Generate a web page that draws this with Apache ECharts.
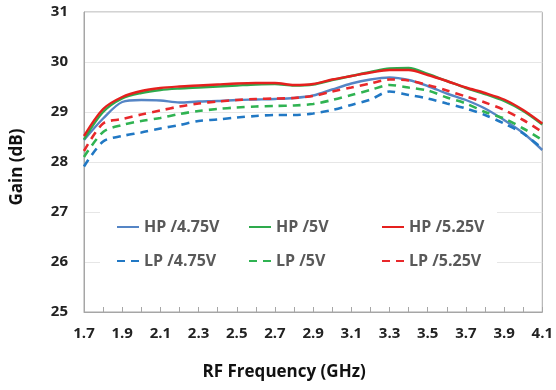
<!DOCTYPE html>
<html>
<head>
<meta charset="utf-8">
<script src="https://cdn.jsdelivr.net/npm/echarts@6/dist/echarts.min.js"></script>
<style>
  html, body { margin: 0; padding: 0; background: #fff; }
  #chart { width: 556px; height: 390px; }
</style>
</head>
<body>
<div id="chart"></div>
<script>
// RF frequency points (GHz)
const freq = ['1.7','1.8','1.9','2.0','2.1','2.2','2.3','2.4','2.5','2.6','2.7','2.8','2.9',
              '3.0','3.1','3.2','3.3','3.4','3.5','3.6','3.7','3.8','3.9','4.0','4.1'];
const freqLabels = ['1.7','1.9','2.1','2.3','2.5','2.7','2.9','3.1','3.3','3.5','3.7','3.9','4.1'];

// Gain (dB), high-power mode
const hp475 = [28.44, 28.87, 29.20, 29.24, 29.23, 29.19, 29.21, 29.22, 29.24, 29.25, 29.26, 29.28, 29.33,
               29.45, 29.57, 29.65, 29.69, 29.64, 29.52, 29.37, 29.24, 29.07, 28.84, 28.58, 28.24];
const hp500 = [28.45, 29.00, 29.27, 29.38, 29.44, 29.47, 29.49, 29.51, 29.53, 29.55, 29.56, 29.53, 29.55,
               29.64, 29.72, 29.80, 29.87, 29.88, 29.76, 29.62, 29.48, 29.36, 29.22, 29.02, 28.75];
const hp525 = [28.52, 29.06, 29.30, 29.42, 29.48, 29.51, 29.53, 29.55, 29.57, 29.58, 29.58, 29.54, 29.56,
               29.65, 29.72, 29.79, 29.84, 29.84, 29.74, 29.62, 29.49, 29.38, 29.25, 29.04, 28.77];

// Gain (dB), low-power mode
const lp475 = [27.91, 28.41, 28.52, 28.59, 28.67, 28.74, 28.82, 28.85, 28.89, 28.92, 28.94, 28.94, 28.97,
               29.04, 29.14, 29.25, 29.41, 29.34, 29.27, 29.17, 29.07, 28.94, 28.77, 28.57, 28.27];
const lp500 = [28.10, 28.60, 28.74, 28.82, 28.88, 28.96, 29.02, 29.06, 29.09, 29.11, 29.12, 29.13, 29.16,
               29.24, 29.34, 29.44, 29.54, 29.49, 29.43, 29.29, 29.17, 29.00, 28.87, 28.67, 28.44];
const lp525 = [28.22, 28.77, 28.86, 28.95, 29.03, 29.11, 29.17, 29.21, 29.24, 29.26, 29.27, 29.28, 29.32,
               29.41, 29.49, 29.57, 29.65, 29.63, 29.54, 29.43, 29.31, 29.19, 29.04, 28.84, 28.60];

const yTicks = [25, 26, 27, 28, 29, 30, 31];

const FONT = '"Open Sans", "Liberation Sans", sans-serif';

function line(name, data, color, dashed) {
  return {
    name: name,
    type: 'line',
    data: data,
    symbol: 'none',
    smooth: 0.3,
    z: 3,
    lineStyle: dashed
      ? { color: color, width: 2.6, type: [8, 6] }
      : { color: color, width: 2.4 },
    itemStyle: { color: color }
  };
}

function legendCol(left, items) {
  return {
    orient: 'vertical',
    left: left,
    top: 219,
    padding: 0,
    itemWidth: 22,
    itemHeight: 16,
    itemGap: 18,
    data: items,
    itemStyle: { opacity: 0 },
    textStyle: { fontFamily: FONT, fontWeight: 'bold', fontSize: 16, color: '#595959' }
  };
}

const chart = echarts.init(document.getElementById('chart'), null, { renderer: 'canvas' });

chart.setOption({
  animation: false,
  backgroundColor: '#fff',
  grid: {
    left: 84, top: 12, right: 11, bottom: 78,
    show: true, borderColor: '#a6a6a6', borderWidth: 1
  },
  graphic: [{
    type: 'rect',
    z: 1,
    shape: { x: 100, y: 195, width: 397, height: 90 },
    style: { fill: '#fff' }
  }],
  legend: [
    legendCol(116, ['HP /4.75V', 'LP /4.75V']),
    legendCol(248, ['HP /5V', 'LP /5V']),
    legendCol(381, ['HP /5.25V', 'LP /5.25V'])
  ],
  xAxis: {
    type: 'category',
    data: freq,
    boundaryGap: false,
    name: 'RF Frequency (GHz)',
    nameLocation: 'middle',
    nameGap: 52,
    nameTextStyle: {
      fontFamily: FONT, fontWeight: 'bold', fontSize: 17, color: '#111',
      padding: [0, 58, 0, 0]
    },
    axisLine: { lineStyle: { color: '#a6a6a6', width: 1 } },
    axisTick: { show: true, inside: true, interval: 0, length: 5, lineStyle: { color: '#a6a6a6' } },
    axisLabel: {
      interval: function (idx, val) { return freqLabels.indexOf(val) >= 0; },
      margin: 14,
      fontFamily: FONT, fontWeight: 'bold', fontSize: 15, color: '#222'
    },
    splitLine: { show: false }
  },
  yAxis: {
    type: 'value',
    min: yTicks[0],
    max: yTicks[yTicks.length - 1],
    interval: 1,
    name: 'Gain (dB)',
    nameLocation: 'middle',
    nameGap: 58,
    nameTextStyle: {
      fontFamily: FONT, fontWeight: 'bold', fontSize: 17, color: '#111',
      padding: [0, 10, 0, 0]
    },
    axisLine: { show: true, lineStyle: { color: '#a6a6a6' } },
    axisTick: { show: false },
    axisLabel: { margin: 16, fontFamily: FONT, fontWeight: 'bold', fontSize: 15, color: '#222' },
    splitLine: { lineStyle: { color: '#e6e6e6', width: 1 } }
  },
  series: [
    line('HP /4.75V', hp475, '#5585c5', false),
    line('HP /5V', hp500, '#2eaa4c', false),
    line('HP /5.25V', hp525, '#e5201e', false),
    line('LP /4.75V', lp475, '#2178c4', true),
    line('LP /5V', lp500, '#30b352', true),
    line('LP /5.25V', lp525, '#e8282b', true)
  ]
});
</script>
</body>
</html>
